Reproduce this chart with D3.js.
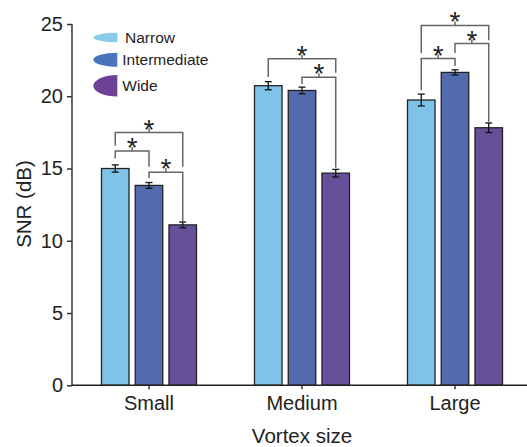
<!DOCTYPE html>
<html>
<head>
<meta charset="utf-8">
<script src="https://cdn.jsdelivr.net/npm/d3@7"></script>
<style>
  body { margin: 0; background: #fff; }
  text { font-family: "Liberation Sans", Arial, sans-serif; }
</style>
</head>
<body>
<div id="chart"></div>
<script>
// data
var categories = ["Small", "Medium", "Large"];
var series = ["Narrow", "Intermediate", "Wide"];
var narrowMean = [15.0, 20.73, 19.74];
var narrowErr = [0.25, 0.28, 0.41];
var intermediateMean = [13.83, 20.4, 21.65];
var intermediateErr = [0.2, 0.23, 0.18];
var wideMean = [11.1, 14.68, 17.82];
var wideErr = [0.2, 0.26, 0.33];
var yTicks = [0, 5, 10, 15, 20, 25];

// significance brackets: category, left bar, right bar, level, left leg end, right leg end (dB)
var brackets = [
    ["Small", 0, 2, 17.49, 16.57, 15.12],
    ["Small", 0, 1, 16.22, 15.70, 15.12],
    ["Small", 1, 2, 14.75, 14.32, 11.31],
    ["Medium", 0, 2, 22.59, 21.34, 21.62],
    ["Medium", 1, 2, 21.32, 20.84, 15.05],
    ["Large", 0, 2, 24.90, 23.00, 23.88],
    ["Large", 1, 2, 23.65, 23.00, 18.23],
    ["Large", 0, 1, 22.61, 20.42, 22.10]
];

var barColors = ["#7fc4e8", "#516bae", "#66509a"];
var legendColors = ["#88cbea", "#4a75ba", "#6d4196"];
var legendHeights = [9.5, 14, 21.5];

var means = [narrowMean, intermediateMean, wideMean];
var errs = [narrowErr, intermediateErr, wideErr];

var rows = [];
categories.forEach(function(c, ci) {
    series.forEach(function(s, si) {
        rows.push({cat: c, ser: s, si: si, v: means[si][ci], e: errs[si][ci]});
    });
});

var width = 527, height = 447;

var svg = d3.select("#chart").append("svg")
    .attr("width", width)
    .attr("height", height);

var x = d3.scaleBand()
    .domain(categories)
    .range([72.5, 531.5])
    .padding(0);

var xs = d3.scaleBand()
    .domain(series)
    .range([-47.5, 47.5])
    .paddingInner(0.184);

var y = d3.scaleLinear()
    .domain([0, 25])
    .range([385.3, 24]);

function cx(cat) { return x(cat) + x.bandwidth() / 2; }
function barCenter(cat, si) { return cx(cat) + xs(series[si]) + xs.bandwidth() / 2; }

// bars
svg.append("g").selectAll("rect")
    .data(rows)
    .enter().append("rect")
    .attr("x", function(d) { return cx(d.cat) + xs(d.ser); })
    .attr("y", function(d) { return y(d.v); })
    .attr("width", xs.bandwidth())
    .attr("height", function(d) { return y(0) - y(d.v); })
    .attr("fill", function(d) { return barColors[d.si]; })
    .attr("stroke", "#222")
    .attr("stroke-width", 1.3);

// error bars
var eb = svg.append("g").attr("stroke", "#111").attr("stroke-width", 1.3);
rows.forEach(function(d) {
    var bx = barCenter(d.cat, d.si);
    eb.append("line").attr("x1", bx).attr("x2", bx).attr("y1", y(d.v - d.e)).attr("y2", y(d.v + d.e));
    eb.append("line").attr("x1", bx - 3.5).attr("x2", bx + 3.5).attr("y1", y(d.v - d.e)).attr("y2", y(d.v - d.e));
    eb.append("line").attr("x1", bx - 3.5).attr("x2", bx + 3.5).attr("y1", y(d.v + d.e)).attr("y2", y(d.v + d.e));
});

// brackets + stars
var br = svg.append("g");
brackets.forEach(function(b) {
    var x1 = barCenter(b[0], b[1]), x2 = barCenter(b[0], b[2]);
    var hy = y(b[3]);
    br.append("path")
        .attr("d", "M" + x1 + "," + y(b[4]) + "V" + hy + "H" + x2 + "V" + y(b[5]))
        .attr("fill", "none")
        .attr("stroke", "#666")
        .attr("stroke-width", 1.5);
    var mx = (x1 + x2) / 2;
    br.append("line")
        .attr("x1", mx).attr("x2", mx)
        .attr("y1", hy).attr("y2", hy - 4)
        .attr("stroke", "#666")
        .attr("stroke-width", 1.5);
    br.append("text")
        .attr("x", mx)
        .attr("y", hy + 6)
        .attr("text-anchor", "middle")
        .attr("font-size", "28px")
        .attr("fill", "#222")
        .text("*");
});

// y axis
var yAxis = svg.append("g")
    .attr("transform", "translate(72,0)")
    .call(d3.axisLeft(y).tickValues(yTicks).tickSize(5).tickPadding(4));
yAxis.select(".domain").attr("stroke", "#333").attr("stroke-width", 1.5).attr("d", "M0," + y(25) + "V" + y(0));
yAxis.selectAll(".tick line").attr("stroke", "#333").attr("stroke-width", 1.5);
yAxis.selectAll(".tick text").attr("font-size", "20px").attr("fill", "#222")
    .attr("font-family", "Liberation Sans, Arial, sans-serif");

// x axis
var xAxis = svg.append("g")
    .attr("transform", "translate(0," + y(0) + ")")
    .call(d3.axisBottom(x).tickSize(4).tickPadding(7));
xAxis.select(".domain").attr("stroke", "#222").attr("stroke-width", 1.5).attr("d", "M72,0H" + width);
xAxis.selectAll(".tick line").attr("stroke", "#333").attr("stroke-width", 1.5);
xAxis.selectAll(".tick text").attr("font-size", "20px").attr("fill", "#222")
    .attr("font-family", "Liberation Sans, Arial, sans-serif");

// axis titles
svg.append("text")
    .attr("transform", "translate(31,204) rotate(-90)")
    .attr("text-anchor", "middle")
    .attr("font-size", "20.5px")
    .attr("fill", "#222")
    .text("SNR (dB)");

svg.append("text")
    .attr("x", cx("Medium"))
    .attr("y", 442.5)
    .attr("text-anchor", "middle")
    .attr("font-size", "20.5px")
    .attr("fill", "#222")
    .text("Vortex size");

// legend
var legendY = [37.5, 59.7, 85.8];
var lg = svg.append("g");
series.forEach(function(s, i) {
    var ry = legendHeights[i] / 2, right = 117.3, cy = legendY[i];
    lg.append("path")
        .attr("d", "M" + right + "," + (cy - ry) + "A24," + ry + " 0 0 0 " + right + "," + (cy + ry) + "Z")
        .attr("fill", legendColors[i]);
    lg.append("text")
        .attr("x", i === 0 ? 125 : 122.3)
        .attr("y", cy + 5.5)
        .attr("font-size", "15.5px")
        .attr("fill", "#222")
        .text(s);
});
</script>
</body>
</html>
